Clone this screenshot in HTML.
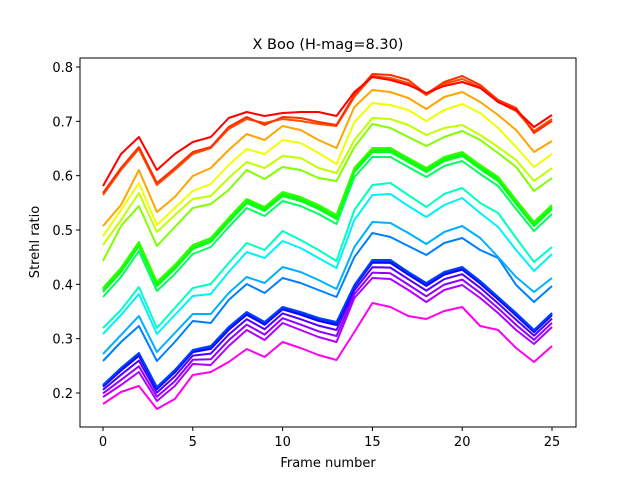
<!DOCTYPE html>
<html><head><meta charset="utf-8"><style>
html,body{margin:0;padding:0;background:#fff;}
svg{display:block;font-family:"DejaVu Sans","Liberation Sans",sans-serif;}
</style></head><body>
<svg id="s" width="640" height="480" viewBox="0 0 640 480" xmlns="http://www.w3.org/2000/svg">
<rect width="640" height="480" fill="#fff"/>
<g id="lines"></g>
<rect x="80" y="58" width="496" height="369" fill="none" stroke="#000" stroke-width="1"/>
<g id="ticks" stroke="#000" stroke-width="1"></g>
<g id="labels" font-size="13" fill="#000"></g>
<text x="328" y="49" font-size="14.5" text-anchor="middle">X Boo (H-mag=8.30)</text>
<text x="328" y="467" font-size="13" text-anchor="middle">Frame number</text>
<text x="0" y="0" font-size="13" text-anchor="middle" transform="translate(39,242) rotate(-90)">Strehl ratio</text>
</svg>
<script>
var NS="http://www.w3.org/2000/svg";
function X(f){return 103+17.96*f;}
var red=[186,154,137,170,154,142,137,118,112,116,113,112,112,116,92,77,80,85,93,86,82,88,102,110,127,115];
var or1=[193,168,147,183,168,152,147,127,117,125,117,118,122,125,95,74,75,80,94,82,76,85,100,108,133,121];
var or2=[195,170,149,185,170,154,148,129,119,123,119,121,124,126,97,76,78,83,95,84,79,87,102,111,131,119];
var ora=[226,205,170,212,197,176,168,150,134,140,126,130,140,148,107,90,92,98,109,97,92,102,115,130,152,141];
var yel=[236,210,183,225,208,191,184,165,149,154,140,143,153,164,122,103,105,110,121,110,104,113,128,147,167,154];
var yg=[245,220,193,232,215,199,196,178,162,168,156,158,168,173,140,118,119,125,135,128,125,135,147,160,181,168];
var gy=[261,226,206,246,227,208,204,190,170,179,167,170,178,181,147,124,128,137,146,137,131,140,153,167,191,178];
var G=[288,268,242,282,265,245,238,218,199,207,192,197,205,215,168,148,148,158,168,157,152,165,177,200,222,205];
function off(a,o){return a.map(function(v){return v+o;});}
var aq=[328,310,287,328,308,288,284,263,243,250,231,240,250,261,210,185,183,195,207,194,188,203,213,238,262,247];
var cy=[334,315,294,334,315,296,294,272,252,258,241,248,258,268,220,195,194,206,217,205,198,213,227,250,271,254];
var dsb=[354,335,316,352,333,314,314,293,277,283,267,272,280,289,247,222,223,233,244,232,226,238,257,277,292,278];
var dod=[361,342,326,361,342,321,323,300,284,293,278,283,290,297,257,233,237,246,255,243,238,250,258,285,302,286];
var bt=[385,368,353,387,370,350,346,327,312,322,307,312,318,322,285,260,260,272,283,272,267,281,297,313,330,313];
var pu=[397,385,372,401,386,364,365,346,330,340,323,330,337,342,298,278,279,290,302,290,285,298,313,330,344,327];
var mg=[404,392,386,409,399,375,372,362,349,357,342,348,355,360,332,303,307,316,319,311,307,326,330,348,362,346];
function mix(t){return bt.map(function(v,i){return v+(pu[i]-v)*t;});}
var series=[
[red,"#ff0000"],[or1,"#ff3000"],[or2,"#ff5000"],[ora,"#ffa500"],[yel,"#f0ff00"],[yg,"#c0ff00"],[gy,"#80ff00"],
[G,"#30ff00"],[off(G,2),"#10ff00"],[off(G,4),"#00ff20"],[off(G,9),"#00ff60"],
[aq,"#00ffc0"],[cy,"#00f0ff"],[dsb,"#00b0ff"],[dod,"#0080ff"],
[mix(0),"#0040ff"],[mix(0.05),"#0020ff"],[mix(0.15),"#1000ff"],[mix(0.4),"#5000ff"],[mix(0.7),"#9000ff"],[pu,"#b000ff"],[mg,"#ff00f0"]
];
var g=document.getElementById("lines");
series.slice().reverse().forEach(function(s){
 var p=document.createElementNS(NS,"polyline");
 p.setAttribute("points",s[0].map(function(v,i){return X(i).toFixed(1)+","+v.toFixed(1);}).join(" "));
 p.setAttribute("fill","none");p.setAttribute("stroke",s[1]);p.setAttribute("stroke-width","2");
 p.setAttribute("stroke-linejoin","round");
 g.appendChild(p);
});
var tk=document.getElementById("ticks"),lb=document.getElementById("labels");
function line(x1,y1,x2,y2){var l=document.createElementNS(NS,"line");l.setAttribute("x1",x1);l.setAttribute("y1",y1);l.setAttribute("x2",x2);l.setAttribute("y2",y2);tk.appendChild(l);}
function text(x,y,s,a){var t=document.createElementNS(NS,"text");t.setAttribute("x",x);t.setAttribute("y",y);t.setAttribute("text-anchor",a);t.textContent=s;lb.appendChild(t);}
for(var f=0;f<=25;f+=5){var x=X(f);line(x,427,x,431);text(x,446,String(f),"middle");}
for(var k=2;k<=8;k++){var v=k/10;var y=393-(v-0.2)*543.3;line(76,y,80,y);text(73,y+5,v.toFixed(1),"end");}
</script>
</body></html>
